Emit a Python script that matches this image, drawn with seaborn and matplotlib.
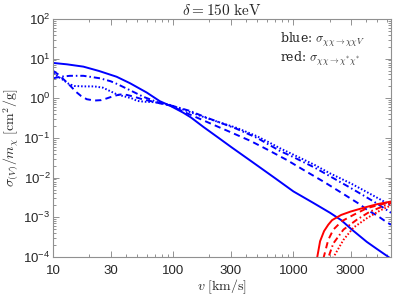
import numpy as np
import pandas as pd
import matplotlib
matplotlib.use('Agg')
import matplotlib.pyplot as plt
import seaborn as sns
from matplotlib.ticker import FixedLocator, FuncFormatter, NullFormatter

sns.set_theme(style='ticks')
plt.rcParams['font.family'] = ['Liberation Sans', 'DejaVu Sans']
# sans maths for tick labels, Computer Modern set per text for labels
plt.rcParams['mathtext.fontset'] = 'custom'
plt.rcParams['mathtext.rm'] = 'Liberation Sans'
plt.rcParams['mathtext.it'] = 'Liberation Sans:italic'
plt.rcParams['mathtext.bf'] = 'Liberation Sans:bold'

# blue: sigma(chi chi -> chi chi V), four curves
v_solid = [10, 13, 17.8, 24, 33.7, 43.6, 60, 77, 94, 120, 140, 178, 240, 306, 450, 700, 1000,
           1468, 2020, 2500, 3070, 4090, 4950, 6000, 6500]
s_solid = [7.8, 7.2, 6.3, 4.9, 3.5, 2.4, 1.4, 0.85, 0.65, 0.44, 0.33, 0.19, 0.099, 0.058, 0.0254,
           0.0098, 0.0045, 0.0023, 0.0013, 0.00085, 0.00049, 0.00024, 0.00016, 0.000107, 0.00009]

v_dashed = [10, 11, 12.5, 14, 15.5, 17, 19, 22, 25, 28, 32, 36, 41, 47, 55, 65, 77, 94, 130, 202,
            300, 437, 600, 880, 1200, 1800, 2500, 3600, 4090, 5000, 6000, 6500]
s_dashed = [4.9, 4.0, 2.8, 2.0, 1.45, 1.15, 0.95, 0.88, 0.9, 1.0, 1.15, 1.25, 1.22, 1.1, 0.95, 0.85,
            0.75, 0.66, 0.42, 0.235, 0.14, 0.085, 0.052, 0.028, 0.016, 0.0078, 0.0042, 0.0021,
            0.00155, 0.0011, 0.00075, 0.00065]

v_dashdot = [10, 11.4, 13.8, 17.8, 24.5, 30, 34, 43.6, 56, 70, 77, 94, 107, 138, 178, 240, 337,
             500, 774, 1000, 1500, 2000, 3000, 4000, 5000, 6500]
s_dashdot = [3.2, 3.5, 3.7, 3.7, 3.2, 2.7, 2.3, 1.6, 1.1, 0.85, 0.77, 0.67, 0.6, 0.48, 0.35, 0.25,
             0.17, 0.10, 0.047, 0.033, 0.018, 0.011, 0.0055, 0.0033, 0.0022, 0.0013]

v_dotted = [10, 11, 12.1, 13.5, 15, 18, 22, 26, 30, 34, 40, 45, 50, 58, 70, 80, 94, 130, 178, 240,
            337, 500, 640, 774, 1000, 1500, 2000, 3000, 4000, 5000, 6500]
s_dotted = [4.3, 3.5, 2.9, 2.3, 2.05, 2.0, 2.0, 1.85, 1.5, 1.25, 1.1, 1.0, 0.86, 0.82, 0.8, 0.74,
            0.68, 0.48, 0.34, 0.25, 0.18, 0.11, 0.075, 0.055, 0.038, 0.021, 0.013, 0.0072, 0.0045,
            0.0031, 0.002]

# red: sigma(chi chi -> chi* chi*), four curves starting at threshold
v_r_solid = [1560, 1580, 1668, 1800, 1950, 2100, 2500, 3000, 4000, 5000, 6500]
s_r_solid = [5e-5, 1e-4, 2.5e-4, 4.5e-4, 6.5e-4, 8.5e-4, 1.15e-3, 1.4e-3, 1.8e-3, 2.15e-3, 2.5e-3]

v_r_dashed = [1760, 1790, 1950, 2150, 2530, 3160, 4090, 5300, 6500]
s_r_dashed = [5e-5, 1e-4, 2.7e-4, 4.9e-4, 8e-4, 1.15e-3, 1.7e-3, 2.1e-3, 2.4e-3]

v_r_dashdot = [1930, 1960, 2150, 2610, 3370, 4350, 5600, 6500]
s_r_dashdot = [5e-5, 1e-4, 2.2e-4, 4.9e-4, 8.7e-4, 1.4e-3, 1.9e-3, 2.3e-3]

v_r_dotted = [2130, 2160, 2610, 3160, 4090, 5300, 6500]
s_r_dotted = [5e-5, 1e-4, 2.7e-4, 5.5e-4, 9.5e-4, 1.5e-3, 2.0e-3]

x_ticks = [10, 30, 100, 300, 1000, 3000]
y_exps = [-4, -3, -2, -1, 0, 1, 2]

styles = {
    'solid': '-',
    'dashed': (0, (3.2, 2.2)),
    'dashdot': (0, (3.2, 1.5, 0.8, 1.5)),
    'dotted': (0, (0.8, 1.0)),
}

curves = [
    (v_solid, s_solid, 'blue', 'solid'),
    (v_dashed, s_dashed, 'blue', 'dashed'),
    (v_dashdot, s_dashdot, 'blue', 'dashdot'),
    (v_dotted, s_dotted, 'blue', 'dotted'),
    (v_r_solid, s_r_solid, 'red', 'solid'),
    (v_r_dashed, s_r_dashed, 'red', 'dashed'),
    (v_r_dashdot, s_r_dashdot, 'red', 'dashdot'),
    (v_r_dotted, s_r_dotted, 'red', 'dotted'),
]

fig = plt.figure(figsize=(3.96, 2.97), dpi=100)
ax = fig.add_axes([0.1346, 0.1347, 0.8528, 0.8013])
ax.set_xscale('log')
ax.set_yscale('log')

for vx, sy, col, ls in curves:
    df = pd.DataFrame({'v': vx, 's': sy})
    sns.lineplot(data=df, x='v', y='s', ax=ax, color=col, lw=1.4,
                 linestyle=styles[ls], estimator=None)

ax.set_xlim(10, 6500)
ax.set_ylim(1e-4, 1e2)

ax.xaxis.set_major_locator(FixedLocator(x_ticks))
ax.xaxis.set_major_formatter(FuncFormatter(lambda val, pos: f'{val:g}'))
minor_x = [m * 10 ** e for e in range(1, 4) for m in range(2, 10)
           if m * 10 ** e not in x_ticks and m * 10 ** e < 6500]
ax.xaxis.set_minor_locator(FixedLocator(minor_x))
ax.xaxis.set_minor_formatter(NullFormatter())

ax.yaxis.set_major_locator(FixedLocator([10.0 ** e for e in y_exps]))
ax.yaxis.set_major_formatter(FuncFormatter(lambda val, pos: r'$\mathregular{10^{%d}}$' % round(np.log10(val))))
minor_y = [m * 10.0 ** e for e in y_exps[:-1] for m in range(2, 10)]
ax.yaxis.set_minor_locator(FixedLocator(minor_y))
ax.yaxis.set_minor_formatter(NullFormatter())

ax.tick_params(which='both', direction='in', top=True, right=True, color='#808080',
               labelsize=9.5, labelcolor='#262626', width=0.6)
ax.tick_params(axis='x', which='major', length=4, pad=6)
ax.tick_params(axis='y', which='major', length=4, pad=2)
ax.tick_params(which='minor', length=2)
for sp in ax.spines.values():
    sp.set_color('#909090')
    sp.set_linewidth(0.8)

ax.set_xlabel(r'$v\ [\mathrm{km/s}]$', fontsize=10, labelpad=0, math_fontfamily='cm')
ax.set_ylabel(r'$\sigma_{(V)}/m_\chi\ [\mathrm{cm}^2/\mathrm{g}]$', fontsize=10, labelpad=2,
              math_fontfamily='cm')
ax.set_title(r'$\delta = 150\ \mathrm{keV}$', fontsize=11, pad=3, math_fontfamily='cm')

ax.text(0.672, 0.899, r'blue: $\sigma_{\chi\chi\to\chi\chi V}$', transform=ax.transAxes,
        fontsize=9, va='baseline', ha='left', family='serif', math_fontfamily='cm')
ax.text(0.672, 0.819, r'red: $\sigma_{\chi\chi\to\chi^{*}\chi^{*}}$', transform=ax.transAxes,
        fontsize=9, va='baseline', ha='left', family='serif', math_fontfamily='cm')

fig.savefig('out.png', dpi=100)
